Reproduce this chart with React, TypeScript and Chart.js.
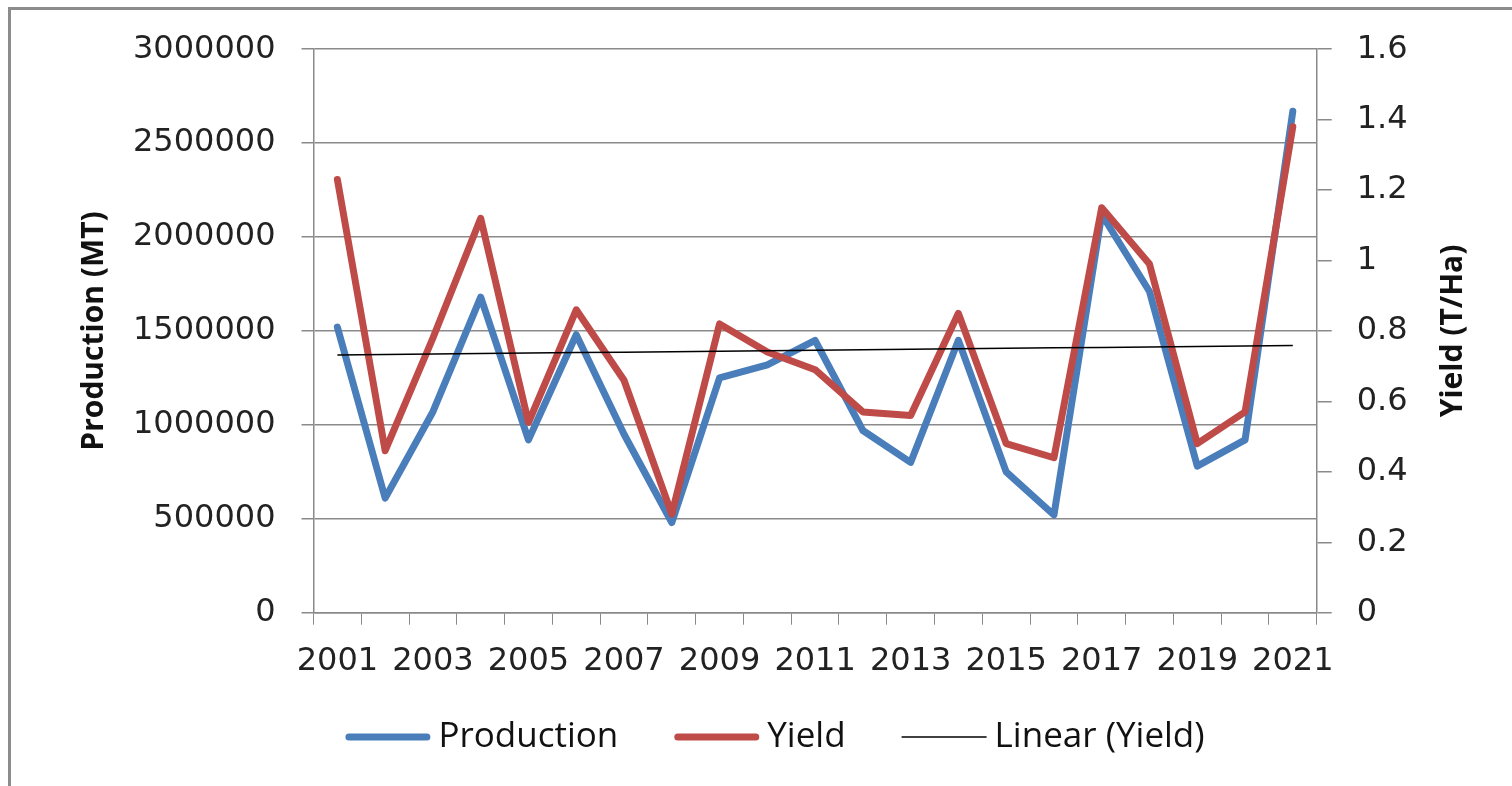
import React, { useEffect, useRef } from 'react';
import { Chart, registerables } from 'chart.js';

Chart.register(...registerables);

const years = ['2001', '2002', '2003', '2004', '2005', '2006', '2007', '2008', '2009', '2010', '2011', '2012', '2013', '2014', '2015', '2016', '2017', '2018', '2019', '2020', '2021'];
const production = [1520000, 610000, 1070000, 1680000, 920000, 1480000, 950000, 480000, 1250000, 1320000, 1450000, 970000, 800000, 1450000, 750000, 520000, 2120000, 1710000, 780000, 920000, 2670000];
const yieldValues = [1.23, 0.46, 0.78, 1.12, 0.54, 0.86, 0.66, 0.28, 0.82, 0.74, 0.69, 0.57, 0.56, 0.85, 0.48, 0.44, 1.15, 0.99, 0.48, 0.57, 1.38];

const productionAxis = { min: 0, max: 3000000, step: 500000 };
const yieldAxis = { min: 0, max: 1.6, step: 0.2 };
const rightTitle = 'Yield (T/Ha)';

function linearTrend(values: number[]): number[] {
  const n = values.length;
  let sx = 0, sy = 0, sxx = 0, sxy = 0;
  values.forEach((v, i) => { sx += i; sy += v; sxx += i * i; sxy += i * v; });
  const slope = (n * sxy - sx * sy) / (n * sxx - sx * sx);
  const intercept = (sy - slope * sx) / n;
  return values.map((_, i) => intercept + slope * i);
}

const trend = linearTrend(yieldValues);

const GRID = '#8a8a8a';
const TICK_FONT = { family: 'DejaVu Sans', size: 32 };
const CANVAS_LEFT = 11;
const CANVAS_TOP = 4;

const rightTitlePlugin = {
  id: 'rightTitle',
  afterDraw(chart: any) {
    const s = chart.scales.y1;
    if (!s) return;
    const ctx = chart.ctx;
    ctx.save();
    ctx.translate(s.right - 39, (s.top + s.bottom) / 2);
    ctx.rotate(-Math.PI / 2);
    ctx.textAlign = 'center';
    ctx.textBaseline = 'middle';
    ctx.fillStyle = '#111';
    ctx.font = 'bold 30px "Open Sans"';
    ctx.fillText(rightTitle, 0, 0);
    ctx.restore();
  },
};

const legendPlugin = {
  id: 'lineLegend',
  afterDraw(chart: any) {
    const ctx = chart.ctx;
    const items = chart.data.datasets.map((d: any) => ({
      text: d.label as string,
      color: d.borderColor as string,
      width: d.borderWidth as number,
    }));
    const sample = 85;
    const gap = 8;
    const spacing = 56;
    ctx.save();
    ctx.font = '35px "Open Sans"';
    const widths = items.map((it: any) => sample + gap + ctx.measureText(it.text).width);
    const total = widths.reduce((a: number, b: number) => a + b, 0) + spacing * (items.length - 1);
    let x = 775 - CANVAS_LEFT - total / 2;
    const y = 737 - CANVAS_TOP;
    items.forEach((it: any, i: number) => {
      const thick = it.width > 2;
      ctx.strokeStyle = it.color;
      ctx.lineWidth = it.width;
      ctx.lineCap = thick ? 'round' : 'butt';
      const inset = thick ? it.width / 2 : 0;
      ctx.beginPath();
      ctx.moveTo(x + inset, y);
      ctx.lineTo(x + sample - inset, y);
      ctx.stroke();
      ctx.fillStyle = '#111';
      ctx.textAlign = 'left';
      ctx.textBaseline = 'middle';
      ctx.fillText(it.text, x + sample + gap, y);
      x += widths[i] + spacing;
    });
    ctx.restore();
  },
};

export default function App() {
  const ref = useRef<HTMLCanvasElement | null>(null);

  useEffect(() => {
    if (!ref.current) return;
    const chart = new Chart(ref.current, {
      type: 'line',
      plugins: [rightTitlePlugin, legendPlugin],
      data: {
        labels: years,
        datasets: [
          {
            label: 'Production',
            data: production,
            borderColor: '#4A7EBB',
            backgroundColor: '#4A7EBB',
            borderWidth: 7,
            pointRadius: 0,
            borderJoinStyle: 'round',
            borderCapStyle: 'round',
            yAxisID: 'y',
            order: 2,
          },
          {
            label: 'Yield',
            data: yieldValues,
            borderColor: '#BE4B48',
            backgroundColor: '#BE4B48',
            borderWidth: 7,
            pointRadius: 0,
            borderJoinStyle: 'round',
            borderCapStyle: 'round',
            yAxisID: 'y1',
            order: 1,
          },
          {
            label: 'Linear (Yield)',
            data: trend,
            borderColor: '#000000',
            backgroundColor: '#000000',
            borderWidth: 1.5,
            pointRadius: 0,
            yAxisID: 'y1',
            order: 0,
          },
        ],
      },
      options: {
        responsive: false,
        animation: false,
        devicePixelRatio: 1,
        layout: { padding: { left: 38.5, right: 20, top: 0, bottom: 93.3 } },
        plugins: {
          tooltip: { enabled: false },
          legend: { display: false },
        },
        scales: {
          x: {
            type: 'category',
            offset: true,
            afterFit: (s: any) => { s.height = 80; },
            grid: {
              offset: true,
              drawOnChartArea: false,
              drawTicks: true,
              tickLength: 12,
              color: GRID,
            },
            border: { display: true, color: GRID, width: 1.5 },
            ticks: {
              autoSkip: false,
              maxRotation: 0,
              minRotation: 0,
              padding: 18,
              color: '#222',
              font: TICK_FONT,
              callback: (_v: any, i: number) => (i % 2 === 0 ? years[i] : ''),
            },
          },
          y: {
            position: 'left',
            min: productionAxis.min,
            max: productionAxis.max,
            afterFit: (s: any) => { s.width = 264; },
            grid: { color: GRID, lineWidth: 1.5, tickLength: 12, drawTicks: true },
            border: { display: true, color: GRID, width: 1.5 },
            ticks: {
              stepSize: productionAxis.step,
              padding: 26,
              color: '#222',
              font: TICK_FONT,
              callback: (v: any) => String(v),
            },
            title: {
              display: true,
              text: 'Production (MT)',
              color: '#111',
              font: { family: 'Open Sans', size: 30, weight: 'bold', lineHeight: 1.2 },
              padding: { top: 26.5, bottom: 0 },
            },
          },
          y1: {
            position: 'right',
            min: yieldAxis.min,
            max: yieldAxis.max,
            afterFit: (s: any) => { s.width = 175.3; },
            grid: { drawOnChartArea: false, color: GRID, lineWidth: 1.5, tickLength: 15, drawTicks: true },
            border: { display: true, color: GRID, width: 1.5 },
            ticks: {
              stepSize: yieldAxis.step,
              padding: 25,
              color: '#222',
              font: TICK_FONT,
              callback: (v: any) => String(Number(Number(v).toFixed(1))),
            },
          },
        },
      },
    });
    return () => chart.destroy();
  }, []);

  return (
    <div
      style={{
        position: 'fixed',
        left: 8,
        top: 7,
        width: 1504,
        height: 779,
        borderTop: '3px solid #8c8c8c',
        borderLeft: '3px solid #8c8c8c',
        background: '#fff',
        boxSizing: 'border-box',
      }}
    >
      <canvas
        ref={ref}
        width={1501}
        height={782}
        style={{ display: 'block', position: 'fixed', left: CANVAS_LEFT, top: CANVAS_TOP }}
      />
    </div>
  );
}
